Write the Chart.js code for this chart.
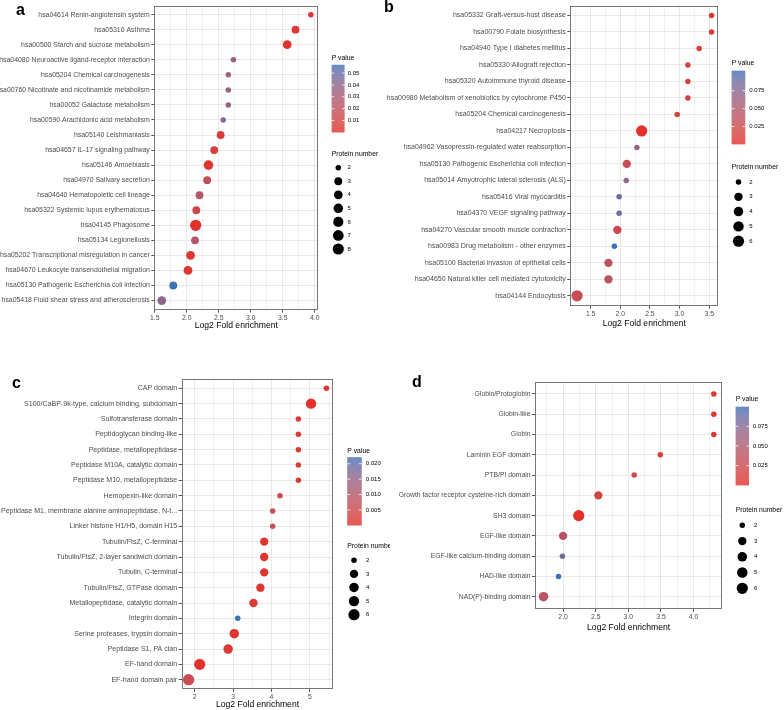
<!DOCTYPE html>
<html><head><meta charset="utf-8">
<script src="https://cdn.jsdelivr.net/npm/chart.js@4"></script>
<style>
html,body{margin:0;padding:0;background:#fff;}
body{width:784px;height:710px;position:relative;overflow:hidden;font-family:"Liberation Sans",Arial,sans-serif;}
canvas{position:absolute;}
.lt{position:absolute;font-weight:bold;font-size:16px;line-height:16px;color:#000;font-family:"Liberation Sans",Arial,sans-serif;}
</style></head><body>
<canvas id="ca"></canvas><canvas id="cb"></canvas><canvas id="cc"></canvas><canvas id="cd"></canvas>
<div class="lt" style="left:16px;top:1.5px">a</div>
<div class="lt" style="left:384px;top:-1px">b</div>
<div class="lt" style="left:12px;top:375px">c</div>
<div class="lt" style="left:412px;top:374px">d</div>
<script>
// ---------- DATA ----------
const catsA = ["hsa04614 Renin-angiotensin system","hsa05310 Asthma","hsa00500 Starch and sucrose metabolism","hsa04080 Neuroactive ligand-receptor interaction","hsa05204 Chemical carcinogenesis","hsa00760 Nicotinate and nicotinamide metabolism","hsa00052 Galactose metabolism","hsa00590 Arachidonic acid metabolism","hsa05140 Leishmaniasis","hsa04657 IL-17 signaling pathway","hsa05146 Amoebiasis","hsa04970 Salivary secretion","hsa04640 Hematopoietic cell lineage","hsa05322 Systemic lupus erythematosus","hsa04145 Phagosome","hsa05134 Legionellosis","hsa05202 Transcriptional misregulation in cancer","hsa04670 Leukocyte transendothelial migration","hsa05130 Pathogenic Escherichia coli infection","hsa05418 Fluid shear stress and atherosclerosis"];
const foldA = [3.94,3.70,3.57,2.73,2.65,2.65,2.65,2.57,2.53,2.43,2.34,2.32,2.20,2.15,2.14,2.13,2.06,2.02,1.79,1.61];
const countA = [2,3,4,2,2,2,2,2,3,3,5,3,3,3,8,3,4,4,3,4];
const pvalA = [0.002,0.004,0.002,0.038,0.036,0.036,0.036,0.043,0.006,0.006,0.002,0.018,0.025,0.012,0.0001,0.025,0.004,0.003,0.057,0.040];
const xTicksA = [1.5,2.0,2.5,3.0,3.5,4.0];
const xTickLabelsA = ["1.5","2.0","2.5","3.0","3.5","4.0"];
const pTicksA = [0.01,0.02,0.03,0.04,0.05];
const pTickLabelsA = ["0.01","0.02","0.03","0.04","0.05"];
const sizeBreaksA = [2,3,4,5,6,7,8];

const catsB = ["hsa05332 Graft-versus-host disease","hsa00790 Folate biosynthesis","hsa04940 Type I diabetes mellitus","hsa05330 Allograft rejection","hsa05320 Autoimmune thyroid disease","hsa00980 Metabolism of xenobiotics by cytochrome P450","hsa05204 Chemical carcinogenesis","hsa04217 Necroptosis","hsa04962 Vasopressin-regulated water reabsorption","hsa05130 Pathogenic Escherichia coli infection","hsa05014 Amyotrophic lateral sclerosis (ALS)","hsa05416 Viral myocarditis","hsa04370 VEGF signaling pathway","hsa04270 Vascular smooth muscle contraction","hsa00983 Drug metabolism - other enzymes","hsa05100 Bacterial invasion of epithelial cells","hsa04650 Natural killer cell mediated cytotoxicity","hsa04144 Endocytosis"];
const foldB = [3.54,3.54,3.33,3.14,3.14,3.14,2.96,2.36,2.28,2.11,2.10,1.98,1.98,1.95,1.90,1.80,1.80,1.27];
const countB = [2,2,2,2,2,2,2,6,2,3,2,2,2,3,2,3,3,6];
const pvalB = [0.006,0.006,0.010,0.015,0.015,0.015,0.018,0.0005,0.065,0.030,0.070,0.088,0.088,0.025,0.103,0.040,0.040,0.032];
const xTicksB = [1.5,2.0,2.5,3.0,3.5];
const xTickLabelsB = ["1.5","2.0","2.5","3.0","3.5"];
const pTicksB = [0.025,0.05,0.075];
const pTickLabelsB = ["0.025","0.050","0.075"];
const sizeBreaksB = [2,3,4,5,6];

const catsC = ["CAP domain","S100/CaBP-9k-type, calcium binding, subdomain","Sulfotransferase domain","Peptidoglycan binding-like","Peptidase, metallopeptidase","Peptidase M10A, catalytic domain","Peptidase M10, metallopeptidase","Hemopexin-like domain","Peptidase M1, membrane alanine aminopeptidase, N-t...","Linker histone H1/H5, domain H15","Tubulin/FtsZ, C-terminal","Tubulin/FtsZ, 2-layer sandwich domain","Tubulin, C-terminal","Tubulin/FtsZ, GTPase domain","Metallopeptidase, catalytic domain","Integrin domain","Serine proteases, trypsin domain","Peptidase S1, PA clan","EF-hand domain","EF-hand domain pair"];
const foldC = [5.43,5.03,4.70,4.70,4.70,4.70,4.70,4.22,4.03,4.03,3.81,3.81,3.81,3.71,3.53,3.12,3.03,2.87,2.13,1.84];
const countC = [2,5,2,2,2,2,2,2,2,2,3,3,3,3,3,2,4,4,6,6];
const pvalC = [0.001,0.0001,0.002,0.002,0.002,0.002,0.002,0.005,0.007,0.007,0.0008,0.0008,0.0008,0.001,0.002,0.0221,0.001,0.002,0.0003,0.006];
const xTicksC = [2,3,4,5];
const xTickLabelsC = ["2","3","4","5"];
const pTicksC = [0.005,0.010,0.015,0.020];
const pTickLabelsC = ["0.005","0.010","0.015","0.020"];
const sizeBreaksC = [2,3,4,5,6];

const catsD = ["Globin/Protoglobin","Globin-like","Globin","Laminin EGF domain","PTB/PI domain","Growth factor receptor cysteine-rich domain","SH3 domain","EGF-like domain","EGF-like calcium-binding domain","HAD-like domain","NAD(P)-binding domain"];
const foldD = [4.31,4.31,4.31,3.49,3.09,2.54,2.24,2.00,1.99,1.93,1.70];
const countD = [2,2,2,2,2,3,6,3,2,2,4];
const pvalD = [0.004,0.004,0.004,0.012,0.022,0.018,0.0003,0.040,0.085,0.100,0.040];
const xTicksD = [2.0,2.5,3.0,3.5,4.0];
const xTickLabelsD = ["2.0","2.5","3.0","3.5","4.0"];
const pTicksD = [0.025,0.05,0.075];
const pTickLabelsD = ["0.025","0.050","0.075"];
const sizeBreaksD = [2,3,4,5,6];

// ---------- STYLE ----------
const FONT = '"Liberation Sans", Arial, Helvetica, sans-serif';
const LOW = '#E3302A', HIGH = '#3B72B6';
const GMAJ = '#e8e8e8', GMIN = '#f2f2f2', TICKC = '#555555', BORDER = '#777777';
const RMIN = 2.75, RMAX = 5.6;

function hex2rgb(h){return [parseInt(h.slice(1,3),16),parseInt(h.slice(3,5),16),parseInt(h.slice(5,7),16)];}
function s2l(c){c/=255;return c<=0.04045?c/12.92:Math.pow((c+0.055)/1.055,2.4);}
function l2s(c){c=c<=0.0031308?12.92*c:1.055*Math.pow(c,1/2.4)-0.055;return Math.round(Math.max(0,Math.min(1,c))*255);}
function rgb2lab(rgb){const [r,g,b]=rgb.map(s2l);
 const X=(0.4124564*r+0.3575761*g+0.1804375*b)/0.95047;
 const Y=(0.2126729*r+0.7151522*g+0.0721750*b);
 const Z=(0.0193339*r+0.1191920*g+0.9503041*b)/1.08883;
 const f=t=>t>0.008856?Math.cbrt(t):(7.787*t+16/116);
 const fx=f(X),fy=f(Y),fz=f(Z);
 return [116*fy-16,500*(fx-fy),200*(fy-fz)];}
function lab2rgb(lab){const [L,a,b]=lab;const fy=(L+16)/116,fx=fy+a/500,fz=fy-b/200;
 const fi=t=>t*t*t>0.008856?t*t*t:(t-16/116)/7.787;
 const X=fi(fx)*0.95047,Y=fi(fy),Z=fi(fz)*1.08883;
 const r=3.2404542*X-1.5371385*Y-0.4985314*Z;
 const g=-0.9692660*X+1.8760108*Y+0.0415560*Z;
 const bb=0.0556434*X-0.2040259*Y+1.0572252*Z;
 return [l2s(r),l2s(g),l2s(bb)];}
const LABLOW = rgb2lab(hex2rgb(LOW)), LABHIGH = rgb2lab(hex2rgb(HIGH));
function pcolor(t){t=Math.max(0,Math.min(1,t));const l=LABLOW.map((v,i)=>v+(LABHIGH[i]-v)*t);const c=lab2rgb(l);return 'rgb('+c[0]+','+c[1]+','+c[2]+')';}

function makePanel(P){
  const cv = document.getElementById(P.id);
  cv.width = P.w; cv.height = P.h;
  cv.style.left = P.left+'px'; cv.style.top = P.top+'px';
  const n = P.cats.length;
  const pmin = Math.min(...P.pval), pmax = Math.max(...P.pval);
  const cmin = Math.min(...P.count), cmax = Math.max(...P.count);
  const fmin = Math.min(...P.fold), fmax = Math.max(...P.fold);
  const xr = fmax - fmin, xmin = fmin - 0.05*xr, xmax = fmax + 0.05*xr;
  const rad = c => RMIN + (RMAX-RMIN)*Math.sqrt((c-cmin)/(cmax-cmin));
  const data = P.fold.map((f,i)=>({x:f, y:i, r:rad(P.count[i])}));
  const colors = P.pval.map(p=>pcolor((p-pmin)/(pmax-pmin)));
  const half = (P.xTicks[1]-P.xTicks[0])/2;
  const xt = [];
  for (let k=Math.ceil(xmin/half-1e-9); k*half<=xmax+1e-9; k++){
    const v = k*half; const mi = P.xTicks.findIndex(t=>Math.abs(t-v)<1e-9);
    xt.push({value:v, lab: mi>=0 ? P.xTickLabels[mi] : ''});
  }
  const L = P.leg;
  const deco = {id:'deco', afterDraw(chart){
    const ctx = chart.ctx, a = chart.chartArea;
    ctx.save();
    ctx.strokeStyle = BORDER; ctx.lineWidth = 1;
    const x0=Math.round(a.left)+0.5, y0=Math.round(a.top)+0.5, x1=Math.round(a.right)-0.5, y1=Math.round(a.bottom)-0.5;
    ctx.strokeRect(x0,y0,x1-x0,y1-y0);
    const ox = P.left, oy = P.top;
    ctx.fillStyle = '#000'; ctx.textBaseline = 'middle'; ctx.textAlign = 'left';
    ctx.font = '6.8px '+FONT;
    ctx.fillText('P value', L.x-ox, L.pTitleY-oy);
    const bt = L.barTop-oy, bb = L.barBottom-oy, bx = L.x-ox, bw = L.barW;
    for (let y=bt; y<bb; y+=0.5){
      ctx.fillStyle = pcolor((bb-y-0.25)/(bb-bt));
      ctx.fillRect(bx, y, bw, 0.6);
    }
    ctx.font = '6px '+FONT;
    P.pTicks.forEach((v,i)=>{
      const y = bb - (v-pmin)/(pmax-pmin)*(bb-bt);
      ctx.strokeStyle = '#ffffff'; ctx.lineWidth = 0.8;
      ctx.beginPath(); ctx.moveTo(bx, y); ctx.lineTo(bx+bw/5, y); ctx.moveTo(bx+bw-bw/5, y); ctx.lineTo(bx+bw, y); ctx.stroke();
      ctx.fillStyle = '#000';
      ctx.fillText(P.pTickLabels[i], L.pLabX-ox, y);
    });
    ctx.font = '6.8px '+FONT;
    ctx.fillText('Protein number', L.x-ox, L.sTitleY-oy);
    ctx.font = '6px '+FONT;
    P.sizeBreaks.forEach((b,i)=>{
      const y = L.dotY0 + i*L.dotDy - oy;
      ctx.fillStyle = '#000';
      ctx.beginPath(); ctx.arc(L.dotX-ox, y, rad(b), 0, Math.PI*2); ctx.fill();
      ctx.fillText(String(b), L.sLabX-ox, y);
    });
    ctx.restore();
  }};
  new Chart(cv, {
    type:'bubble',
    data:{datasets:[{data, backgroundColor:colors, borderWidth:0, hoverBorderWidth:0, hoverRadius:0}]},
    options:{
      responsive:false, animation:false, events:[],
      layout:{padding:{left:0, top:P.plotTop-P.top, right:P.left+P.w-P.plotRight, bottom:0}},
      plugins:{legend:{display:false}, tooltip:{enabled:false}},
      scales:{
        x:{type:'linear', min:xmin, max:xmax,
          afterBuildTicks: s=>{ s.ticks = xt.map(t=>({value:t.value, lab:t.lab})); },
          afterFit: s=>{ s.height = P.top+P.h-P.plotBottom; s.paddingLeft=0; s.paddingRight=0; },
          ticks:{callback:(v,i)=>xt[i].lab, autoSkip:false, maxRotation:0, minRotation:0, padding:1.2, color:'#4d4d4d', font:{family:FONT,size:6.8}},
          grid:{color:c=>(c.tick&&c.tick.lab)?GMAJ:GMIN, lineWidth:1, tickLength:3, tickWidth:1, tickColor:c=>(c.tick&&c.tick.lab)?TICKC:'rgba(0,0,0,0)'},
          border:{display:false},
          title:{display:true, text:'Log2 Fold enrichment', color:'#000', font:{family:FONT,size:8.6,lineHeight:1.2}, padding:{top:0,bottom:Math.max(0,P.top+P.h-P.titleY-5.16)}}
        },
        y:{type:'linear', reverse:true, min:-0.6, max:n-0.4,
          afterBuildTicks: s=>{ s.ticks = P.cats.map((c,i)=>({value:i})); },
          afterFit: s=>{ s.width = P.plotLeft-P.left; s.paddingTop=0; s.paddingBottom=0; },
          ticks:{callback:(v,i)=>P.cats[i], autoSkip:false, padding:1.5, color:'#4d4d4d', font:{family:FONT,size:P.yFont}},
          grid:{color:GMAJ, lineWidth:1, tickLength:3, tickWidth:1, tickColor:TICKC},
          border:{display:false}
        }
      }
    },
    plugins:[deco]
  });
}

makePanel({id:'ca', left:0, top:0, w:388, h:340, plotLeft:154.3, plotRight:318.3, plotTop:0.8, plotBottom:309.6, titleY:325.7, yFont:6.9,
  cats:catsA, fold:foldA, count:countA, pval:pvalA, xTicks:xTicksA, xTickLabels:xTickLabelsA, pTicks:pTicksA, pTickLabels:pTickLabelsA, sizeBreaks:sizeBreaksA,
  leg:{x:331.7, pTitleY:58, barTop:64.8, barBottom:132.2, barW:12.8, pLabX:347.7, sTitleY:154, dotX:338.3, dotY0:167.7, dotDy:13.55, sLabX:347.5}});
makePanel({id:'cb', left:384, top:0, w:400, h:340, plotLeft:570.3, plotRight:718.3, plotTop:1.3, plotBottom:305.7, titleY:324, yFont:7.0,
  cats:catsB, fold:foldB, count:countB, pval:pvalB, xTicks:xTicksB, xTickLabels:xTickLabelsB, pTicks:pTicksB, pTickLabels:pTickLabelsB, sizeBreaks:sizeBreaksB,
  leg:{x:731.7, pTitleY:62.7, barTop:70.7, barBottom:144, barW:13.5, pLabX:749.3, sTitleY:166.7, dotX:738.5, dotY0:182, dotDy:14.8, sLabX:749.3}});
makePanel({id:'cc', left:0, top:345, w:390, h:365, plotLeft:181.7, plotRight:333.3, plotTop:379.1, plotBottom:688.9, titleY:705, yFont:7.05,
  cats:catsC, fold:foldC, count:countC, pval:pvalC, xTicks:xTicksC, xTickLabels:xTickLabelsC, pTicks:pTicksC, pTickLabels:pTickLabelsC, sizeBreaks:sizeBreaksC,
  leg:{x:347.3, pTitleY:450.7, barTop:457.3, barBottom:525, barW:14.4, pLabX:365.7, sTitleY:546, dotX:354, dotY0:560.3, dotDy:13.6, sLabX:366}});
makePanel({id:'cd', left:390, top:345, w:394, h:365, plotLeft:535, plotRight:722.3, plotTop:381.8, plotBottom:608.9, titleY:627.7, yFont:6.8,
  cats:catsD, fold:foldD, count:countD, pval:pvalD, xTicks:xTicksD, xTickLabels:xTickLabelsD, pTicks:pTicksD, pTickLabels:pTickLabelsD, sizeBreaks:sizeBreaksD,
  leg:{x:735.7, pTitleY:399, barTop:406.7, barBottom:485, barW:13.3, pLabX:752.7, sTitleY:510, dotX:742.3, dotY0:525.3, dotDy:15.75, sLabX:754}});
</script>
</body></html>
